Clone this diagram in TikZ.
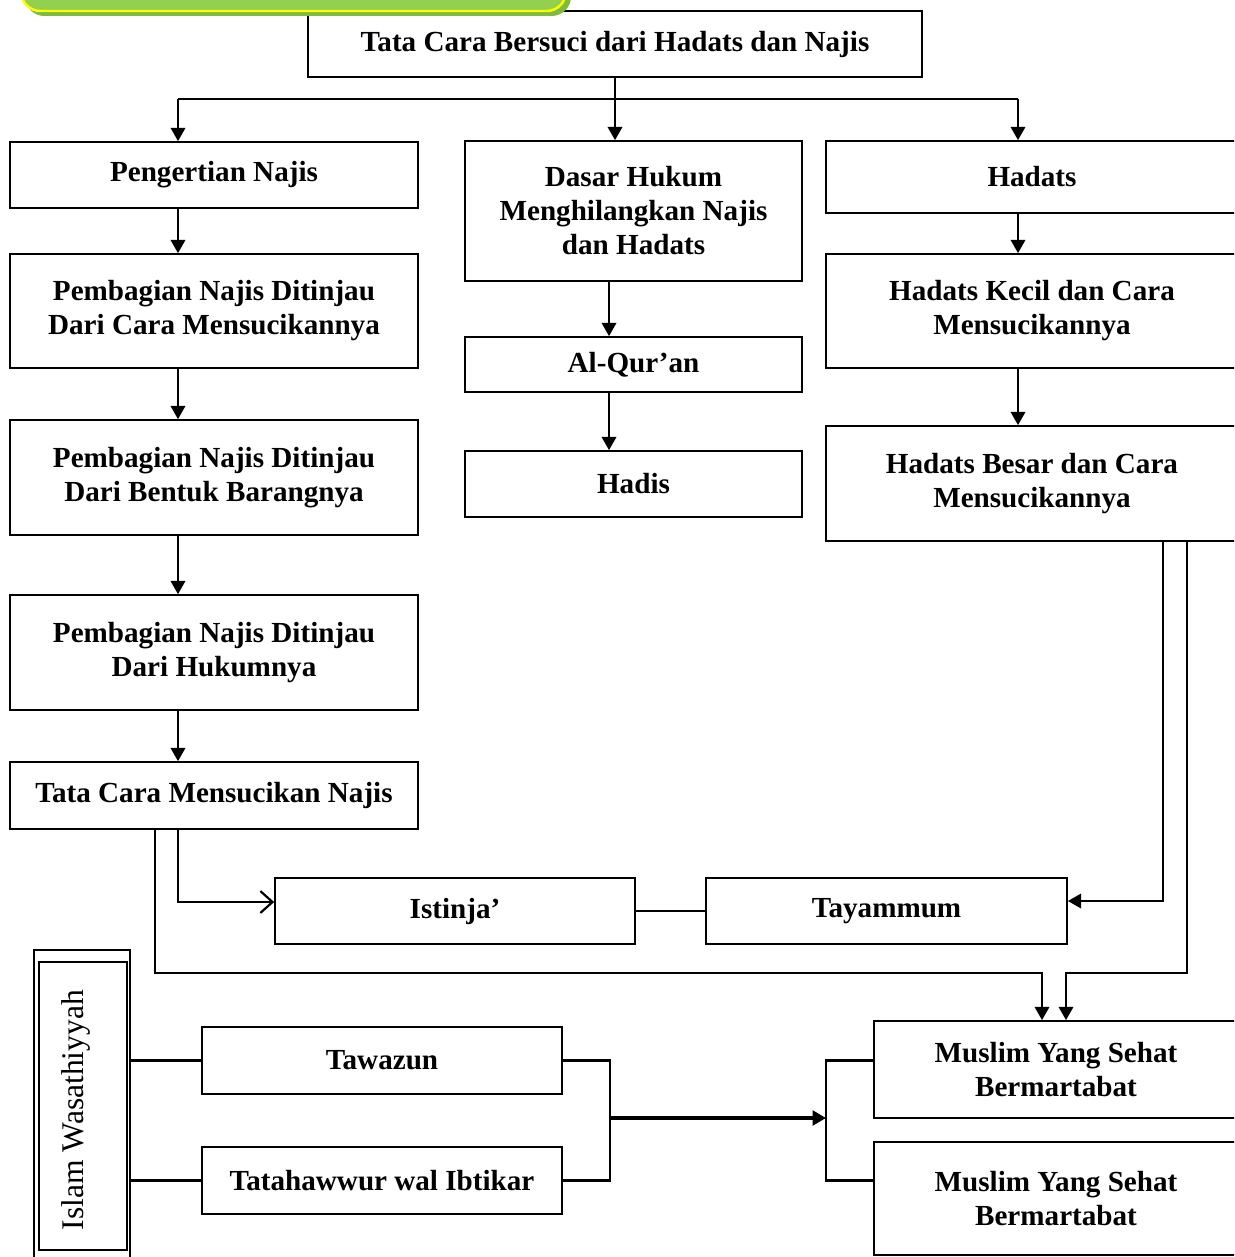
\documentclass[tikz,border=0pt]{standalone}
\usepackage{fontspec}
\setmainfont{Liberation Serif}
\usetikzlibrary{fit,arrows.meta}
\newcommand{\pxu}{0.01448cm}
\definecolor{leaf}{HTML}{92D050}
\definecolor{leafdark}{HTML}{7DBB3C}
\definecolor{lemon}{HTML}{FFFF00}
\begin{document}
\begin{tikzpicture}[x=\pxu, y=-\pxu,
    box/.style={draw, line width=0.7pt, inner sep=0pt, align=center, font=\fontsize{12}{14}\selectfont\bfseries},
    dims/.style 2 args={minimum width=#1*\pxu, minimum height=#2*\pxu},
    frame/.style={draw, line width=0.7pt, inner sep=0pt},
    link/.style={black, line width=0.9pt},
    >={Triangle[length=5.5pt,width=6pt]}]
    \useasboundingbox (0,0) rectangle (1234,1257);
    \clip (0,0) rectangle (1234,1257);
    %
    \node[box, dims={614}{66}] (title) at (615,44) {Tata Cara Bersuci dari Hadats dan Najis};
    \fill[leafdark, rounded corners=8] (25,-30) rectangle (571,16);
    \filldraw[fill=leaf, draw=lemon, line width=1pt, rounded corners=8] (21,-30) rectangle (566,11);
    %
    \node[box, dims={408}{66}] (pengertian) at (214,175) {Pengertian Najis};
    \node[box, dims={408}{114}] (caranya) at (214,311) {Pembagian Najis Ditinjau\\Dari Cara Mensucikannya};
    \node[box, dims={408}{115}] (bentuk) at (214,477.5) {Pembagian Najis Ditinjau\\Dari Bentuk Barangnya};
    \node[box, dims={408}{115}] (hukumnya) at (214,652.5) {Pembagian Najis Ditinjau\\Dari Hukumnya};
    \node[box, dims={408}{67}] (tatacara) at (214,795.5) {Tata Cara Mensucikan Najis};
    %
    \node[box, dims={337}{140}] (dasar) at (633.5,211) {Dasar Hukum\\Menghilangkan Najis\\dan Hadats};
    \node[box, dims={337}{55}] (quran) at (633.5,364.5) {Al-Qur’an};
    \node[box, dims={337}{66}] (hadis) at (633.5,484) {Hadis};
    %
    \node[box, dims={412}{72}] (hadats) at (1032,177) {Hadats};
    \node[box, dims={412}{114}] (kecil) at (1032,311) {Hadats Kecil dan Cara\\Mensucikannya};
    \node[box, dims={412}{115}] (besar) at (1032,483.5) {Hadats Besar dan Cara\\Mensucikannya};
    %
    \node[box, dims={360}{66}] (istinja) at (455,911) {Istinja’};
    \node[box, dims={361}{66}] (tayammum) at (886.5,911) {Tayammum};
    %
    \node[frame, fit={(34,950) (130,1262)}] (frameout) {};
    \node[frame, fit={(39,962) (127,1250)}] (framein) {};
    \node[rotate=90, font=\fontsize{13}{15}\selectfont] (wasath) at (76,1110) {Islam Wasathiyyah};
    \node[box, dims={360}{67}] (tawazun) at (382,1060.5) {Tawazun};
    \node[box, dims={360}{67}] (tatahawwur) at (382,1180.5) {Tatahawwur wal Ibtikar};
    \node[box, dims={364}{97}] (muslimA) at (1056,1069.5) {Muslim Yang Sehat\\Bermartabat};
    \node[box, dims={364}{113}] (muslimB) at (1056,1198.5) {Muslim Yang Sehat\\Bermartabat};
    %
    \coordinate (bl) at (178,99);
    \coordinate (br) at (1018,99);
    \coordinate (mid) at (609,0);
    \draw[link] (bl) -- (br);
    \draw[link, ->] (bl) -- (bl |- pengertian.north);
    \draw[link, ->] (title.south) -- (title.south |- dasar.north);
    \draw[link, ->] (br) -- (br |- hadats.north);
    % Vertical lines
    \foreach \a/\b in {pengertian/caranya, caranya/bentuk, bentuk/hukumnya, hukumnya/tatacara}
      \draw[link, ->] (\a.south -| bl) -- (\b.north -| bl);
    \foreach \a/\b in {dasar/quran, quran/hadis}
      \draw[link, ->] (\a.south -| mid) -- (\b.north -| mid);
    \foreach \a/\b in {hadats/kecil, kecil/besar}
      \draw[link, ->] (\a.south -| br) -- (\b.north -| br);
    %
    \draw[link, -{Straight Barb[length=5pt,width=9pt]}] (tatacara.south -| bl) |- ([yshift=9*\pxu]istinja.west);
    \draw[link] (istinja.east) -- (tayammum.west);
    \coordinate (bx1) at (1163,0);
    \coordinate (bx2) at (1187,0);
    \coordinate (tx) at (155,0);
    \coordinate (rj) at (1066,973);
    \coordinate (lj) at (1042,973);
    \draw[link, ->] (besar.south -| bx1) |- ([yshift=10*\pxu]tayammum.east);
    \draw[link, ->] (besar.south -| bx2) |- (rj) -- (rj |- muslimA.north);
    \draw[link, ->] (tatacara.south -| tx) |- (lj) -- (lj |- muslimA.north);
    %
    \coordinate (jr) at (610,1118);
    \coordinate (jl) at (826,1118);
    \draw[link] (frameout.east |- tawazun.west) -- (tawazun.west);
    \draw[link] (frameout.east |- tatahawwur.west) -- (tatahawwur.west);
    \draw[link] (tawazun.east) -| (jr) |- (tatahawwur.east);
    \draw[black, line width=1.4pt, ->] (jr) -- (jl);
    \draw[link] (muslimA.west |- tawazun.east) -| (jl) |- (muslimB.west |- tatahawwur.east);
\end{tikzpicture}
\end{document}
